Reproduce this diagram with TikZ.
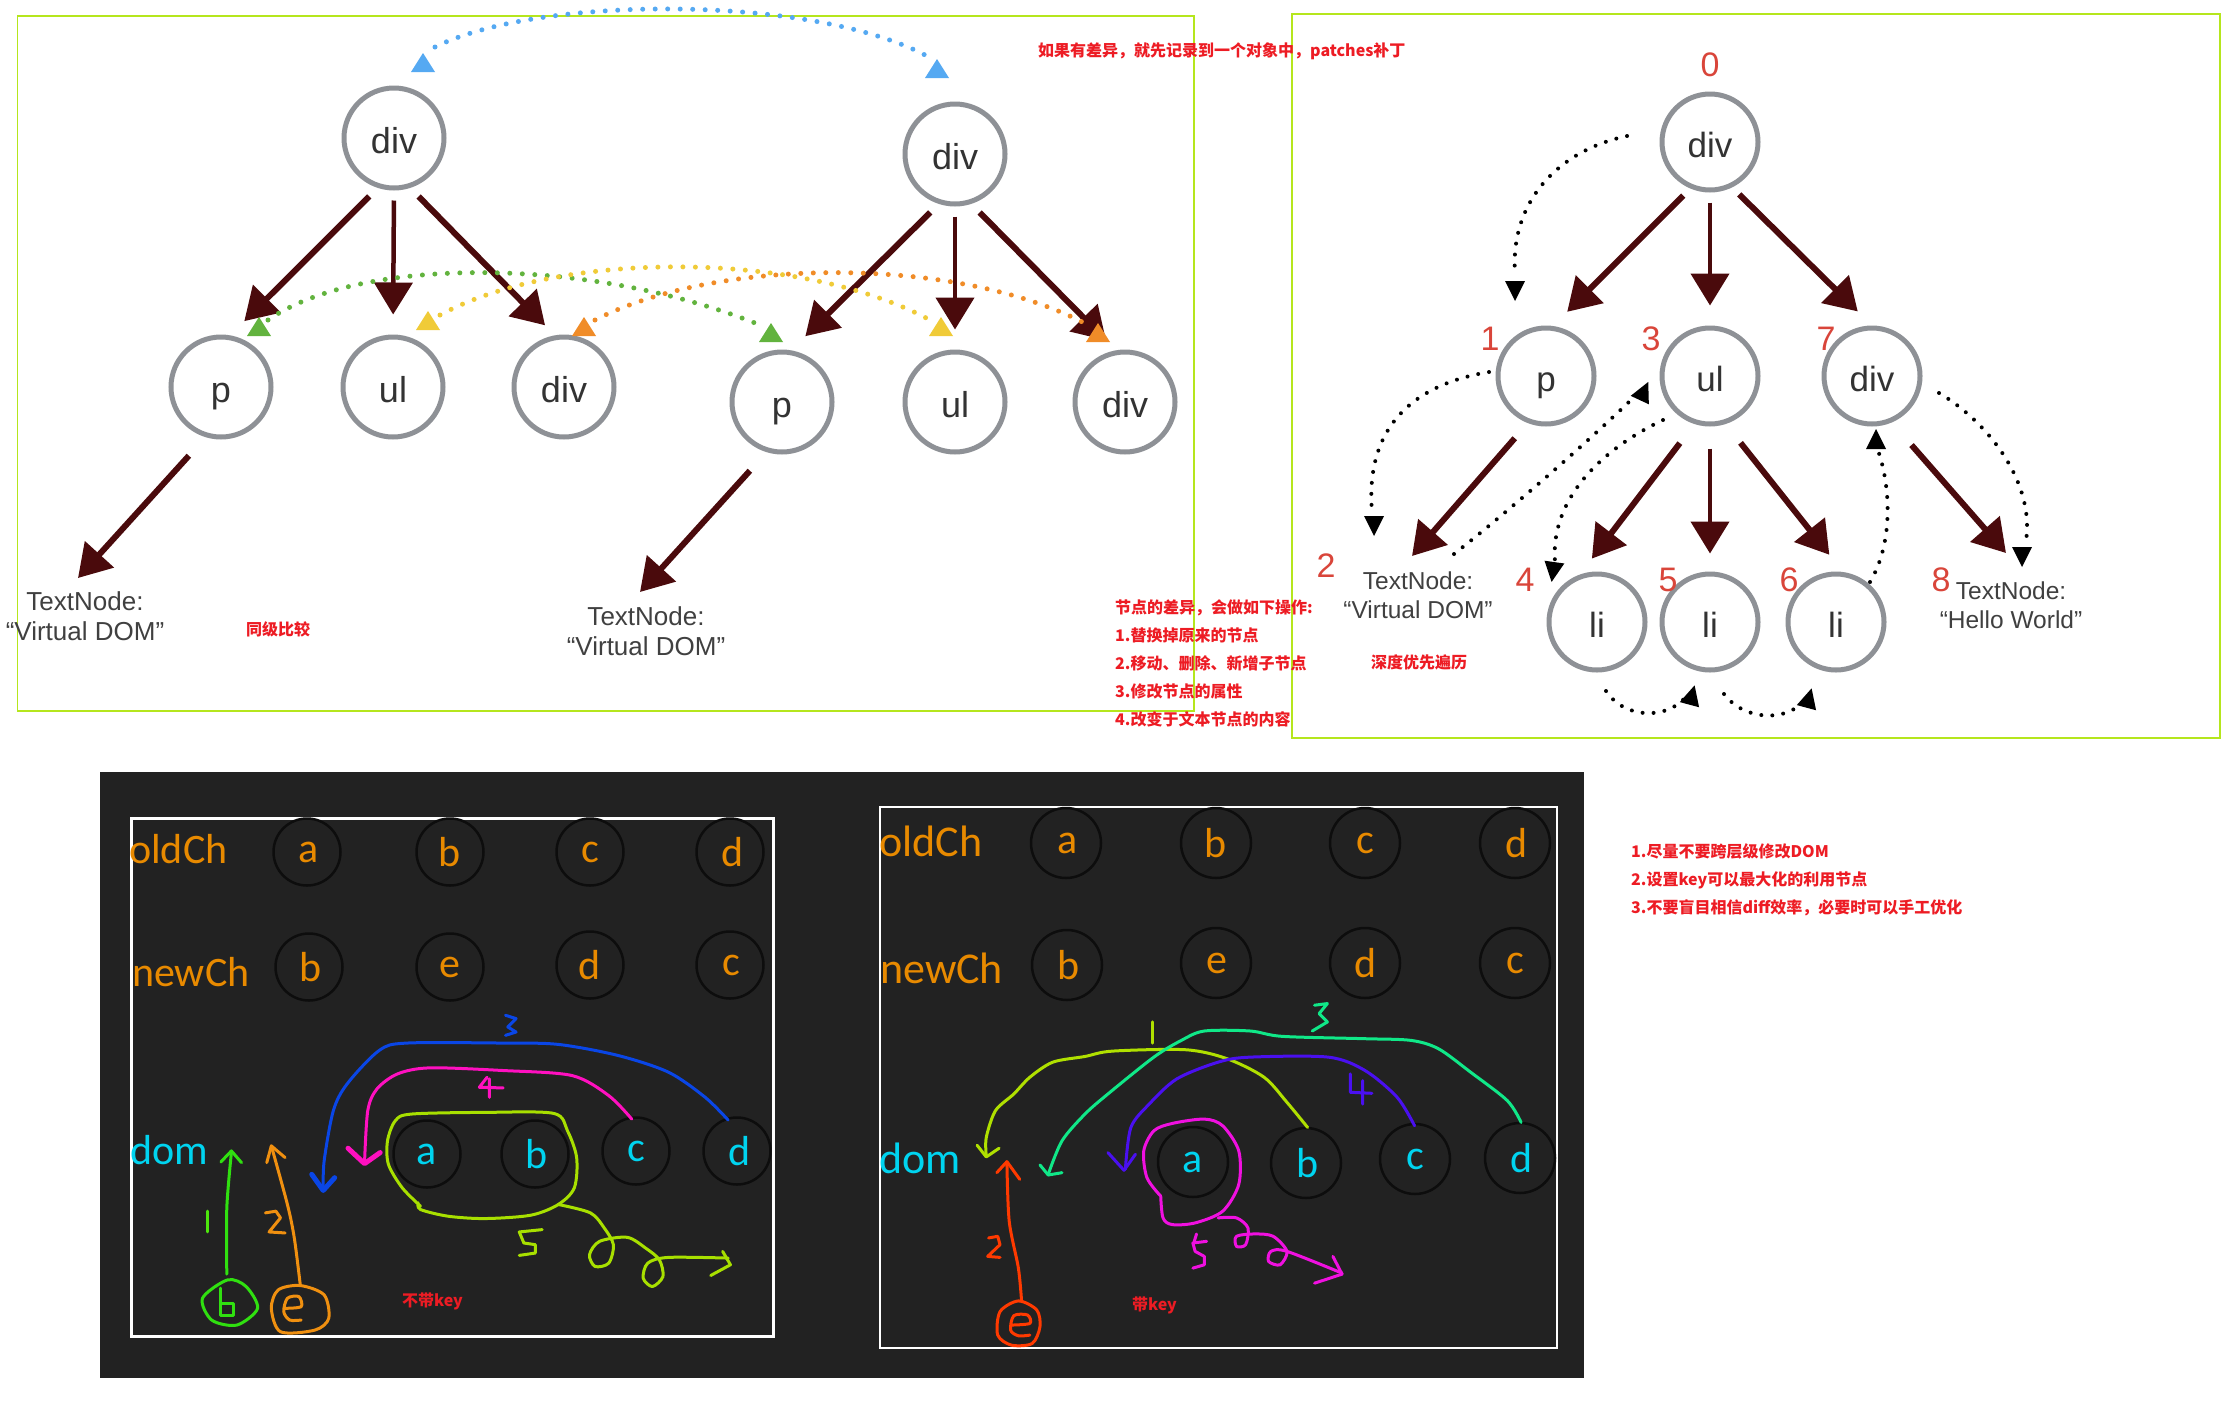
\documentclass[tikz,border=0pt]{standalone}
\usepackage{fontspec}
\setmainfont{Liberation Sans}
\newfontfamily\cjk{Noto Sans CJK SC}
\newfontfamily\calfont{Carlito}
\usetikzlibrary{arrows.meta}
\definecolor{treered}{HTML}{4A0A0C}
\definecolor{ringgray}{HTML}{8E9196}
\definecolor{limeedge}{HTML}{B5E61D}
\definecolor{panel}{HTML}{222222}
\definecolor{ltr}{HTML}{E88A00}
\definecolor{dcy}{HTML}{00D4F0}
\definecolor{redt}{HTML}{ED1C24}
\definecolor{numred}{HTML}{D9453A}
\definecolor{dblue}{HTML}{55A9F2}
\definecolor{dgreen}{HTML}{62B33E}
\definecolor{dyel}{HTML}{F0CB38}
\definecolor{dora}{HTML}{F08C28}
\newcommand{\fsz}[1]{\fontsize{#1}{#1}\selectfont}
\newcommand{\utri}[3]{\fill[#3] (#1-12,#2+9) -- (#1,#2-10) -- (#1+12,#2+9) -- cycle;}
\newcommand{\btri}[3]{\fill[black,shift={(#1,#2)},rotate=#3] (-10,10) -- (0,-10) -- (10,10) -- cycle;}
\tikzset{
  ring/.style={circle,draw=ringgray,line width=5pt,minimum size=100pt,inner sep=0pt,text=black!80,font=\fsz{36},text height=30pt,text depth=0pt},
  ringb/.style={ring,minimum size=96pt,font=\fsz{35}},
  tarrow/.style={draw=treered,line width=6pt,-{Triangle[length=32pt,width=38pt,fill=treered]},shorten <=12pt,shorten >=20pt},
  varrow/.style={tarrow,line width=4.5pt,shorten <=10pt,shorten >=20pt},
  textnode/.style={align=center,inner sep=0pt,text=black!75,font=\fsz{26}},
  textnodeb/.style={textnode,font=\fsz{24.5}},
  num/.style={text=numred,font=\fsz{34},inner sep=0pt},
  dotline/.style={line cap=round,dash pattern=on 0pt off 12.5pt,line width=5pt},
  blackdot/.style={line cap=round,dash pattern=on 0pt off 11pt,line width=4pt,black},
  redtxt/.style={text=redt,font=\cjk\bfseries\fsz{16},inner sep=0pt,anchor=west},
  cblack/.style={circle,draw=black!95,line width=2.5pt,minimum size=67pt,inner sep=0pt,font=\calfont\fsz{42}},
  oc/.style={cblack,text=ltr},
  dc/.style={cblack,text=dcy},
  lab/.style={anchor=west,inner sep=0pt,font=\calfont\fsz{42}},
  labb/.style={lab,font=\calfont\fsz{44}},
  hand/.style={line cap=round,line join=round,line width=3pt},
  handb/.style={hand,line width=5pt},
}
\begin{document}
\begin{tikzpicture}[x=1pt,y=-1pt]
\useasboundingbox (0,0) rectangle (2222,1414);
\fill[white] (0,0) rectangle (2222,1414);

% frames
\draw[limeedge,line width=1.5pt] (17.5,16) rectangle (1194,711);
\draw[limeedge,line width=1.5pt] (1292,14) rectangle (2220,738);

% ---- first tree
\node[ring] (ra) at (394,138) {div};
\node[ring] (ap) at (221,387) {p};
\node[ring] (au) at (393,387) {ul};
\node[ring] (ad) at (564,387) {div};
\node[textnode] (at) at (85,616) {TextNode:\\[4pt]“Virtual DOM”};
\coordinate (atip) at (78,578);
% ---- second tree
\node[ring] (rb) at (955,154) {div};
\node[ring] (bp) at (782,402) {p};
\node[ring] (bu) at (955,402) {ul};
\node[ring] (bd) at (1125,402) {div};
\node[textnode] (bt) at (646,631) {TextNode:\\[4pt]“Virtual DOM”};
\coordinate (btip) at (640,592);

\draw[tarrow] (ra.252) -- (ap.80);
\draw[varrow] (ra.south) -- (au.north);
\draw[tarrow,shorten >=14pt] (ra.288) -- (ad.100);
\draw[tarrow,shorten >=0pt,shorten <=25pt] (ap.253) -- (atip);
\draw[tarrow] (rb.252) -- (bp.80);
\draw[varrow] (rb.south) -- (bu.north);
\draw[tarrow,shorten >=14pt] (rb.288) -- (bd.100);
\draw[tarrow,shorten >=0pt,shorten <=25pt] (bp.253) -- (btip);

% dotted same-level arcs
\draw[dotline,dblue] (435,47) .. controls (540,-5) and (810,-5) .. (925,55);
\utri{423}{63}{dblue}\utri{937}{69}{dblue}
\draw[dotline,dgreen] (268,320) .. controls (360,256) and (590,256) .. (760,325);
\draw[dotline,dyel] (440,315) .. controls (560,250) and (800,250) .. (930,320);
\draw[dotline,dora] (595,320) .. controls (720,256) and (960,256) .. (1088,325);
\utri{259}{327}{dgreen}\utri{771}{333}{dgreen}
\utri{428}{321}{dyel}\utri{941}{327}{dyel}
\utri{584}{327}{dora}\utri{1098}{333}{dora}

% ---- right tree
\node[ringb] (r0) at (1710,142) {div};
\node[ringb] (r1) at (1546,376) {p};
\node[ringb] (r3) at (1710,376) {ul};
\node[ringb] (r7) at (1872,376) {div};
\node[ringb] (r4) at (1597,622) {li};
\node[ringb] (r5) at (1710,622) {li};
\node[ringb] (r6) at (1836,622) {li};
\node[textnodeb] (r2) at (1418,595) {TextNode:\\[4pt]“Virtual DOM”};
\node[textnodeb] (r8) at (2011,605) {TextNode:\\[4pt]“Hello World”};
\coordinate (r2tip) at (1412,556);
\coordinate (r8tip) at (2006,553);
\draw[tarrow,shorten <=10pt] (r0.247) -- (r1.82);
\draw[varrow] (r0.south) -- (r3.north);
\draw[tarrow,shorten <=10pt] (r0.296) -- (r7.north);
\draw[tarrow,shorten >=0pt,shorten <=20pt] (r1.249) -- (r2tip);
\draw[tarrow,shorten <=24pt,shorten >=20pt] (r3.252) -- (r4.110);
\draw[varrow,shorten <=22pt,shorten >=18pt] (r3.south) -- (r5.north);
\draw[tarrow,shorten <=24pt,shorten >=22pt] (r3.288) -- (r6.82);
\draw[tarrow,shorten >=0pt,shorten <=30pt] (r7.293) -- (r8tip);

\node[num] (n0) at (1710,65) {0};
\node[num] (n1) at (1490,339) {1};
\node[num] (n3) at (1651,339) {3};
\node[num] (n7) at (1826,339) {7};
\node[num] (n2) at (1326,566) {2};
\node[num] (n4) at (1525,580) {4};
\node[num] (n5) at (1668,580) {5};
\node[num] (n6) at (1789,580) {6};
\node[num] (n8) at (1941,580) {8};

% depth-first traversal dots
\draw[blackdot] (1627,136) .. controls (1560,150) and (1510,200) .. (1515,273);
\btri{1515}{291}{180}
\draw[blackdot] (1489,372) .. controls (1410,385) and (1365,430) .. (1372,512);
\btri{1374}{526}{180}
\draw[blackdot] (1454,554) .. controls (1510,510) and (1590,440) .. (1634,397);
\btri{1644}{391}{-25}
\draw[blackdot] (1663,420) .. controls (1600,450) and (1550,500) .. (1555,562);
\btri{1553}{572}{172}
\draw[blackdot] (1870,582) .. controls (1895,540) and (1890,480) .. (1876,445);
\btri{1876}{439}{0}
\draw[blackdot] (1939,393) .. controls (1985,420) and (2035,480) .. (2026,541);
\btri{2022}{557}{180}
\draw[blackdot] (1606,691) .. controls (1625,720) and (1670,720) .. (1688,694);
\btri{1692}{695}{-15}
\draw[blackdot] (1724,694) .. controls (1745,722) and (1790,722) .. (1806,698);
\btri{1809}{698}{-15}

% red notes
\node[redtxt] (t1) at (1038,51) {如果有差异，就先记录到一个对象中，patches补丁};
\node[redtxt] (t2) at (246,629) {同级比较};
\node[redtxt] (t3) at (1115,608) {节点的差异，会做如下操作:};
\node[redtxt] (t4) at (1115,635) {1.替换掉原来的节点};
\node[redtxt] (t5) at (1115,663) {2.移动、删除、新增子节点};
\node[redtxt] (t6) at (1115,691) {3.修改节点的属性};
\node[redtxt] (t7) at (1115,719) {4.改变于文本节点的内容};
\node[redtxt] (t8) at (1371,662) {深度优先遍历};
\node[redtxt] (t9) at (1631,851) {1.尽量不要跨层级修改DOM};
\node[redtxt] (t10) at (1631,880) {2.设置key可以最大化的利用节点};
\node[redtxt] (t11) at (1631,908) {3.不要盲目相信diff效率，必要时可以手工优化};

% ---- dark panel
\fill[panel] (100,772) rectangle (1584,1378);
\draw[white,line width=3pt] (131,818) rectangle (773,1336);
\draw[white,line width=2.5pt] (880,807) rectangle (1557,1348);

\node[lab,text=ltr] (l1) at (129,849) {oldCh};
\node[lab,text=ltr] (l2) at (132,972) {newCh};
\node[lab,text=dcy] (l3) at (130,1150) {dom};
\node[oc] (a1) at (307,852) {\hspace{3pt}a};
\node[oc] (a2) at (450,852) {b};
\node[oc] (a3) at (590,852) {c};
\node[oc] (a4) at (730,852) {\hspace{5pt}d};
\node[oc] (b1) at (309,967) {\hspace{3pt}b};
\node[oc] (b2) at (450,967) {e};
\node[oc] (b3) at (590,965) {d};
\node[oc] (b4) at (730,965) {\hspace{3pt}c};
\node[dc] (c1) at (427,1154) {a};
\node[dc] (c2) at (535,1154) {\hspace{3pt}b};
\node[dc] (c3) at (636,1151) {c};
\node[dc] (c4) at (737,1151) {\hspace{5pt}d};

\node[labb,text=ltr] (m1) at (879,841) {oldCh};
\node[labb,text=ltr] (m2) at (880,968) {newCh};
\node[labb,text=dcy] (m3) at (879,1158) {dom};
\node[oc,minimum size=70pt] (d1) at (1066,843) {\hspace{3pt}a};
\node[oc,minimum size=70pt] (d2) at (1216,843) {b};
\node[oc,minimum size=70pt] (d3) at (1365,843) {c};
\node[oc,minimum size=70pt] (d4) at (1515,843) {\hspace{4pt}d};
\node[oc,minimum size=70pt] (e1) at (1067,965) {\hspace{3pt}b};
\node[oc,minimum size=70pt] (e2) at (1216,963) {\hspace{2pt}e};
\node[oc,minimum size=70pt] (e3) at (1365,963) {\hspace{2pt}d};
\node[oc,minimum size=70pt] (e4) at (1515,963) {c};
\node[dc,minimum size=70pt] (f1) at (1193,1162) {a};
\node[dc,minimum size=70pt] (f2) at (1306,1163) {\hspace{3pt}b};
\node[dc,minimum size=70pt] (f3) at (1415,1159) {c};
\node[dc,minimum size=70pt] (f4) at (1520,1158) {\hspace{4pt}d};

\node[redtxt] (k1) at (402,1301) {不带key};
\node[redtxt] (k2) at (1132,1305) {带key};

% hand-drawn strokes, left panel
\begin{scope}[shift={(90pt,-960pt)},x=0.4591pt,y=-0.3349pt,tension=0.5]
\definecolor{hblue}{HTML}{0A46E6}
\definecolor{hmag}{HTML}{FF10C0}
\definecolor{hlime}{HTML}{A8E000}
\definecolor{hgreen}{HTML}{30E010}
\definecolor{horange}{HTML}{F09010}
\draw[hand,hblue] plot[smooth] coordinates {(1390,478) (1340,410) (1260,335) (1150,285) (1020,252) (900,248) (690,248) (630,270) (560,370) (530,450) (510,600) (508,685)};
\draw[handb,hblue] (483,640) -- (508,688) -- (533,650);
\draw[hand,hblue] (905,165) -- (928,175) -- (910,200) -- (928,215) -- (905,225);
\draw[hand,hmag] plot[smooth] coordinates {(1180,475) (1130,405) (1050,345) (900,330) (740,322) (670,340) (625,385) (605,450) (598,605)};
\draw[handb,hmag] (562,562) -- (598,608) -- (632,575);
\draw[hand,hmag] (865,350) -- (848,380) -- (900,382) (870,355) -- (870,410);
\draw[hand,hlime] plot[smooth] coordinates {(720,735) (680,680) (650,610) (648,540) (665,480) (700,460) (860,455) (1010,458) (1040,510) (1060,590) (1055,680) (1020,730) (960,762) (860,772) (780,765) (720,745) (715,725)};
\draw[hand,hlime] plot[smooth] coordinates {(1020,730) (1090,755) (1120,800) (1140,850) (1130,905) (1100,915) (1088,880) (1110,840) (1170,828) (1210,860) (1240,895) (1248,945) (1225,975) (1205,950) (1215,905) (1260,888) (1390,890)};
\draw[hand,hlime] (1378,870) -- (1395,910) -- (1352,942);
\draw[hand,hlime] (985,805) -- (935,812) -- (945,845) -- (970,850) -- (970,875) -- (935,882);
\draw[hand,hgreen] plot[smooth] coordinates {(298,938) (298,740) (308,575)};
\draw[hand,hgreen] (285,603) -- (308,570) -- (330,605);
\draw[hand,hgreen] plot[smooth cycle] coordinates {(300,955) (245,1010) (265,1075) (320,1090) (365,1040) (340,975)};
\draw[hand,hgreen] (285,980) -- (285,1062) -- (312,1062) -- (312,1025) -- (285,1025);
\draw[hand,hgreen!80!lime] (255,750) -- (255,812);
\draw[hand,horange] plot[smooth] coordinates {(458,970) (445,830) (430,730) (395,555)};
\draw[hand,horange] (385,605) -- (395,555) -- (425,590);
\draw[hand,horange] plot[smooth cycle] coordinates {(415,1110) (395,1040) (410,985) (458,972) (510,1000) (520,1070) (490,1105)};
\draw[hand,horange] plot[smooth] coordinates {(425,1040) (460,1035) (455,1005) (430,1010) (422,1050) (435,1075) (460,1075)};
\draw[hand,horange] (382,755) -- (405,750) -- (415,770) -- (390,812) -- (425,815);
\end{scope}

% hand-drawn strokes, right panel
\begin{scope}[shift={(860pt,-960pt)},x=0.4591pt,y=-0.3349pt,tension=0.5]
\definecolor{hlime}{HTML}{B0E000}
\definecolor{hteal}{HTML}{10E888}
\definecolor{hviol}{HTML}{4A10F0}
\definecolor{hmagb}{HTML}{F010E0}
\definecolor{hred}{HTML}{FF3A00}
\draw[hand,hlime] plot[smooth] coordinates {(975,500) (930,425) (880,350) (800,295) (710,268) (550,272) (490,288) (420,305) (370,350) (335,400) (295,450) (275,530) (275,585)};
\draw[hand,hlime] (255,553) -- (275,588) -- (303,562);
\draw[hand,hlime] (637,185) -- (637,248);
\draw[hand,hteal] plot[smooth] coordinates {(1440,485) (1410,420) (1330,335) (1260,265) (1200,240) (1100,235) (920,228) (850,212) (750,212) (700,240) (640,290) (540,400) (490,460) (440,540) (410,640)};
\draw[hand,hteal] (392,612) -- (410,642) -- (440,635);
\draw[hand,hteal] (990,135) -- (1018,130) -- (1000,160) -- (1018,185) -- (985,212);
\draw[hand,hviol] plot[smooth] coordinates {(1208,495) (1170,410) (1100,330) (1020,290) (850,290) (780,305) (690,355) (630,430) (590,500) (578,625)};
\draw[hand,hviol] (540,575) -- (575,628) -- (600,580);
\draw[hand,hviol] (1068,340) -- (1068,395) -- (1115,398) (1095,360) -- (1095,430);
\draw[hand,hmagb] plot[smooth] coordinates {(655,705) (625,650) (618,570) (640,510) (680,488) (750,475) (790,495) (825,570) (825,670) (790,750) (730,785) (680,790) (660,770) (655,705)};
\draw[hand,hmagb] plot[smooth] coordinates {(780,770) (820,770) (845,800) (840,850) (820,855) (820,825) (860,818) (900,825) (930,870) (915,910) (890,900) (895,870) (930,870) (1050,935)};
\draw[hand,hmagb] (1030,885) -- (1050,938) -- (990,965);
\draw[hand,hmagb] (755,840) -- (725,845) -- (730,870) -- (750,885) -- (750,910) -- (725,920) (733,818) -- (727,845);
\draw[hand,hred] plot[smooth] coordinates {(352,1020) (345,920) (325,780) (320,605)};
\draw[hand,hred] (298,635) -- (320,602) -- (348,655);
\draw[hand,hred] plot[smooth cycle] coordinates {(345,1018) (305,1050) (300,1120) (330,1150) (375,1145) (392,1095) (385,1045)};
\draw[hand,hred] plot[smooth] coordinates {(330,1090) (370,1085) (365,1060) (335,1062) (328,1105) (345,1122) (370,1120)};
\draw[hand,hred] (280,830) -- (300,825) -- (305,850) -- (278,885) -- (305,888);
\end{scope}
\end{tikzpicture}
\end{document}
